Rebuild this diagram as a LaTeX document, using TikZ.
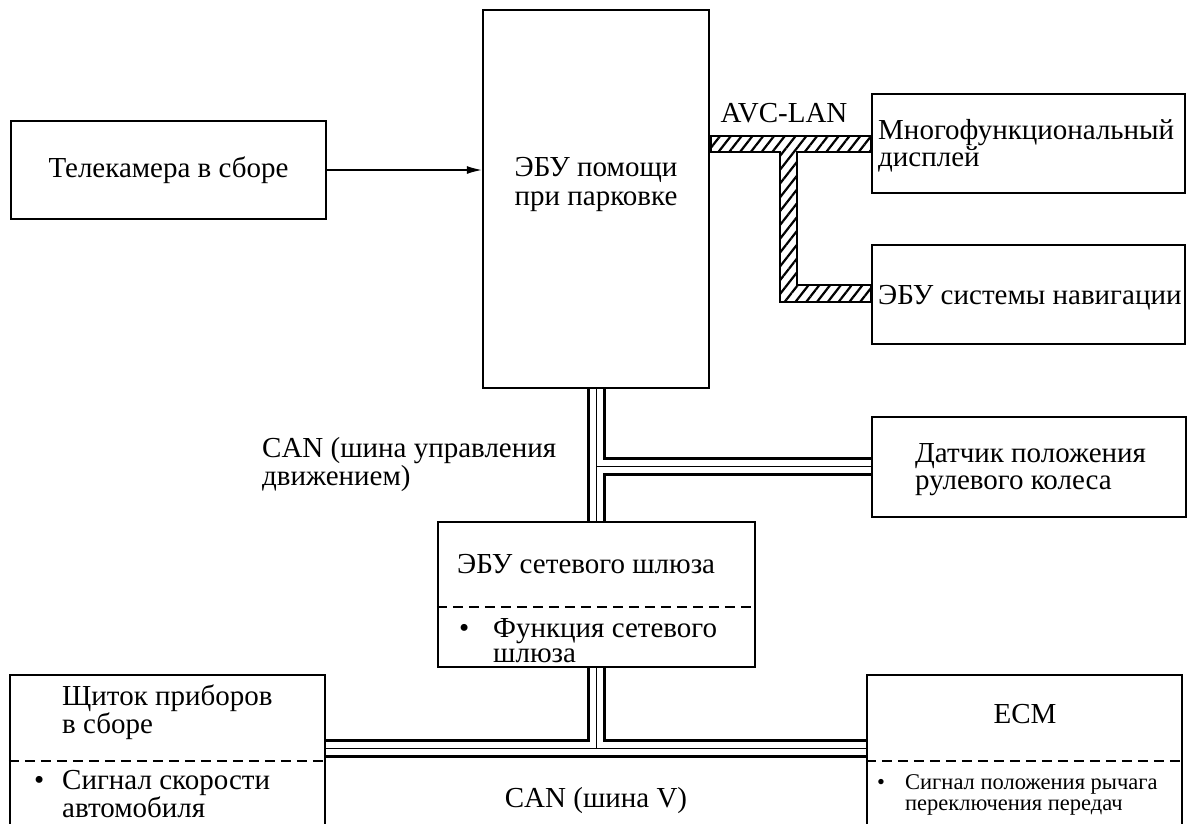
\documentclass[tikz,border=0pt]{standalone}
\usepackage{fontspec}
\setmainfont{Liberation Serif}
\usetikzlibrary{arrows.meta,patterns.meta}
\begin{document}
\begin{tikzpicture}[x=1pt,y=-1pt,
  box/.style={draw,line width=2.5pt,rectangle,inner sep=0pt,font=\fontsize{29}{25}\selectfont},
  lbl/.style={inner sep=0pt,align=left,font=\fontsize{29}{#1}\selectfont},
  lbl/.default=25,
  small/.style={inner sep=0pt,align=left,font=\fontsize{22.5}{21}\selectfont},
  divider/.style={line width=2.5pt,dash pattern=on 10pt off 6pt},
  canbus/.style={line width=19pt,postaction={draw,white,line width=13pt},postaction={draw,black,line width=1pt}},
  avclan/.style={pattern={Lines[angle=52,distance=8.5pt,line width=2.2pt]}},
  sig/.style={line width=1.2pt,-{Latex[length=15pt,width=8pt]}}]
\useasboundingbox (0,0) rectangle (1188,823);
% boxes
\node[box,minimum width=315pt,minimum height=98pt] (cam) at (168.5,170) {Телекамера в сборе};
\node[box,minimum width=226pt,minimum height=378pt] (ecu) at (596,199) {};
\node[box,minimum width=313pt,minimum height=99pt] (md) at (1028.5,143.5) {};
\node[box,minimum width=313pt,minimum height=99pt] (nav) at (1028.5,294.5) {};
\node[box,minimum width=314pt,minimum height=100pt] (steer) at (1029,467) {};
\node[box,minimum width=317pt,minimum height=145pt] (gw) at (596.5,594.5) {};
\node[box,minimum width=315pt,minimum height=170pt] (cl) at (167.5,760) {};
\node[box,minimum width=315pt,minimum height=170pt] (ecm) at (1024.5,760) {};
% dividers
\draw[divider] (gw.west |- 0,607) -- (gw.east |- 0,607);
\draw[divider] (cl.west |- 0,761) -- (cl.east |- 0,761);
\draw[divider] (ecm.west |- 0,761) -- (ecm.east |- 0,761);
% texts (base anchors refer to the last line's baseline)
\node[lbl=29,align=center,anchor=base] (ecut) at (596,205) {ЭБУ помощи\\при парковке};
\node[lbl=27,anchor=base west] (mdt) at (878,166) {Многофункциональный\\дисплей};
\node[lbl,anchor=base west] (navt) at (878,304) {ЭБУ системы навигации};
\node[lbl=27,anchor=base west] (steert) at (915,489) {Датчик положения\\рулевого колеса};
\node[lbl,anchor=base west] (gwt) at (457,573) {ЭБУ сетевого шлюза};
\node[lbl=25,anchor=base west] (gwb) at (459,662) {\makebox[34pt][l]{•}Функция сетевого\\\hspace*{34pt}шлюза};
\node[lbl=25,anchor=base west] (clt) at (62,733) {Щиток приборов\\в сборе};
\node[lbl=23,anchor=base west] (clb) at (34,817) {\makebox[28pt][l]{•}Сигнал скорости\\\hspace*{28pt}автомобиля};
\node[lbl,anchor=base] (ecmt) at (1025,723) {ECM};
\node[small,anchor=base west] (ecmb) at (877,810) {\makebox[28pt][l]{•}Сигнал положения рычага\\\hspace*{28pt}переключения передач};
\node[lbl=24,anchor=base west] (canl) at (262,485) {CAN (шина управления\\движением)};
\node[lbl,anchor=base] (avcl) at (784,122) {AVC-LAN};
\node[lbl,anchor=base] (canv) at (596,807) {CAN (шина V)};
% junctions
\coordinate (j1) at (596,466);
\coordinate (j2) at (596,748);
\coordinate (a1) at (788.5,144);
% CAN buses
\draw[canbus] (ecu.south) -- (ecu.south |- gw.north)
  (j1) -- (j1 -| steer.west)
  (ecu.south |- gw.south) -- (j2)
  (j2 -| cl.east) -- (j2 -| ecm.west);
% AVC-LAN
\filldraw[avclan,line width=2.5pt] (ecu.east |- 0,136) -- (md.west |- 0,136) -- (md.west |- 0,152)
  -- ([xshift=8.5pt]a1 |- 0,152) -- ([xshift=8.5pt]a1 |- 0,285) -- (nav.west |- 0,285)
  -- (nav.west |- 0,302) -- ([xshift=-8.5pt]a1 |- 0,302) -- ([xshift=-8.5pt]a1 |- 0,152)
  -- (ecu.east |- 0,152) -- cycle;
% camera signal
\draw[sig] (cam.east) -- (cam.east -| ecu.west);
\end{tikzpicture}
\end{document}
